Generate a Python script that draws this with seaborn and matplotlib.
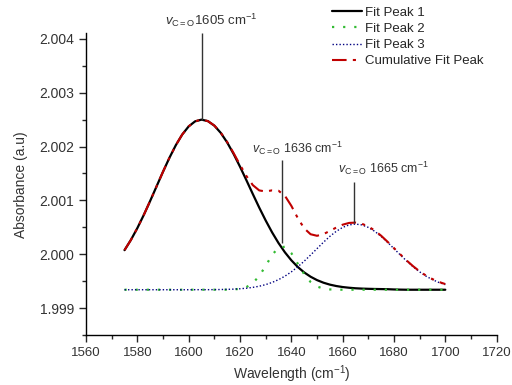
import numpy as np
import pandas as pd
import matplotlib
matplotlib.use("Agg")
import matplotlib.pyplot as plt
import seaborn as sns
from matplotlib.ticker import MultipleLocator

# wavenumber grid (cm-1)
wavenumber = [1575, 1577.5, 1580, 1582.5, 1585, 1587.5, 1590, 1592.5, 1595, 1597.5,
              1600, 1602.5, 1605, 1607.5, 1610, 1612.5, 1615, 1617.5, 1620, 1622.5,
              1625, 1627.5, 1630, 1632.5, 1635, 1637.5, 1640, 1642.5, 1645, 1647.5,
              1650, 1652.5, 1655, 1657.5, 1660, 1662.5, 1665, 1667.5, 1670, 1672.5,
              1675, 1677.5, 1680, 1682.5, 1685, 1687.5, 1690, 1692.5, 1695, 1697.5, 1700]

fit_peak1 = [2.000075, 2.000266, 2.000485, 2.000728, 2.000990, 2.001261, 2.001532, 2.001791, 2.002026, 2.002224,
             2.002374, 2.002468, 2.002500, 2.002472, 2.002388, 2.002254, 2.002076, 2.001863, 2.001626, 2.001374,
             2.001117, 2.000865, 2.000627, 2.000406, 2.000208, 2.000035, 1.999887, 1.999763, 1.999662, 1.999582,
             1.999519, 1.999471, 1.999435, 1.999409, 1.999390, 1.999377, 1.999367, 1.999361, 1.999357, 1.999354,
             1.999352, 1.999350, 1.999345, 1.999342, 1.999340, 1.999340, 1.999340, 1.999340, 1.999340, 1.999340, 1.999340]

fit_peak2 = [1.999340, 1.999340, 1.999340, 1.999340, 1.999340, 1.999340, 1.999340, 1.999340, 1.999340, 1.999340,
             1.999340, 1.999340, 1.999340, 1.999340, 1.999340, 1.999340, 1.999341, 1.999345, 1.999357, 1.999389,
             1.999463, 1.999595, 1.999783, 1.999985, 2.000124, 2.000138, 2.000020, 1.999824, 1.999629, 1.999484,
             1.999400, 1.999361, 1.999346, 1.999341, 1.999340, 1.999340, 1.999340, 1.999340, 1.999340, 1.999340,
             1.999340, 1.999340, 1.999340, 1.999340, 1.999340, 1.999340, 1.999340, 1.999340, 1.999340, 1.999340, 1.999340]

fit_peak3 = [1.999340, 1.999340, 1.999340, 1.999340, 1.999340, 1.999340, 1.999340, 1.999340, 1.999340, 1.999340,
             1.999340, 1.999341, 1.999341, 1.999341, 1.999342, 1.999344, 1.999347, 1.999351, 1.999358, 1.999368,
             1.999384, 1.999405, 1.999435, 1.999475, 1.999527, 1.999592, 1.999672, 1.999765, 1.999870, 1.999985,
             2.000103, 2.000221, 2.000331, 2.000425, 2.000498, 2.000544, 2.000560, 2.000544, 2.000498, 2.000425,
             2.000331, 2.000221, 2.000103, 1.999985, 1.999870, 1.999765, 1.999672, 1.999592, 1.999527, 1.999475, 1.999435]

cumulative = [2.000075, 2.000266, 2.000485, 2.000728, 2.000990, 2.001261, 2.001532, 2.001791, 2.002026, 2.002224,
              2.002374, 2.002468, 2.002500, 2.002472, 2.002390, 2.002258, 2.002084, 2.001879, 2.001660, 2.001452,
              2.001283, 2.001185, 2.001165, 2.001186, 2.001179, 2.001085, 2.000899, 2.000672, 2.000481, 2.000371,
              2.000342, 2.000373, 2.000432, 2.000495, 2.000548, 2.000581, 2.000587, 2.000565, 2.000515, 2.000439,
              2.000343, 2.000231, 2.000113, 1.999995, 1.999880, 1.999775, 1.999682, 1.999602, 1.999537, 1.999485, 1.999445]

# peak annotations: position, label, top of the marked curve
peak_pos = [1605, 1636.5, 1664.5]
peak_names = ["1605", "1636", "1665"]
peak_tops = [2.0025, 2.0002, 2.00058]

sns.set_style("ticks")
plt.rcParams["font.family"] = ["Liberation Sans", "DejaVu Sans"]
plt.rcParams["mathtext.fontset"] = "custom"
plt.rcParams["mathtext.rm"] = "Liberation Sans"
plt.rcParams["mathtext.it"] = "Liberation Sans:italic"

df = pd.DataFrame({"x": wavenumber, "p1": fit_peak1, "p2": fit_peak2,
                   "p3": fit_peak3, "cum": cumulative})

fig = plt.figure(figsize=(5.12, 3.85), dpi=100)
ax = fig.add_axes([0.168, 0.130, 0.802, 0.783])

sns.lineplot(data=df, x="x", y="p1", ax=ax, color="black", lw=1.6, label="Fit Peak 1")
sns.lineplot(data=df, x="x", y="p2", ax=ax, color="#33bb33", lw=1.6,
             linestyle=(0, (1, 4)), label="Fit Peak 2")
sns.lineplot(data=df, x="x", y="p3", ax=ax, color="#000080", lw=1.0,
             linestyle=(0, (1, 1.5)), label="Fit Peak 3")
sns.lineplot(data=df, x="x", y="cum", ax=ax, color="#c00000", lw=1.5,
             linestyle=(0, (7, 3, 1.5, 3, 1.5, 3)), label="Cumulative Fit Peak")

# annotation lines and labels
line_top = [2.00411, 2.00175, 2.00135]
text_x = [1590.8, 1624.5, 1658.2]
text_y = [2.00434, 2.00197, 2.00160]
text_fmt = [r"$v_{\mathrm{C=O}}$", r"$v_{\mathrm{C=O}}$ ", r"$v_{\mathrm{C=O}}$ "]
for i in range(3):
    ax.vlines(peak_pos[i], peak_tops[i], line_top[i], color="#333333", lw=1.0, clip_on=False)
    ax.text(text_x[i], text_y[i], text_fmt[i] + peak_names[i] + r" cm$^{-1}$",
            fontsize=9.5 if i == 0 else 9, color="#333333", ha="left", va="center", clip_on=False)

ax.set_xlim(1560, 1720)
ax.set_ylim(1.9985, 2.0041)
ax.xaxis.set_major_locator(MultipleLocator(20))
ax.xaxis.set_minor_locator(MultipleLocator(10))
ax.yaxis.set_major_locator(MultipleLocator(0.001))
ax.yaxis.set_minor_locator(MultipleLocator(0.0005))
ax.yaxis.set_major_formatter(matplotlib.ticker.FormatStrFormatter("%.3f"))
ax.tick_params(which="major", direction="out", length=5, width=1, labelcolor="#333333")
ax.tick_params(axis="y", which="major", labelsize=10)
ax.tick_params(axis="x", which="major", labelsize=9.5)
ax.tick_params(which="minor", direction="out", length=3, width=1)
sns.despine(ax=ax)
for s in ["left", "bottom"]:
    ax.spines[s].set_color("black")
    ax.spines[s].set_linewidth(1.0)

ax.set_xlabel("Wavelength (cm$^{-1}$)", fontsize=10, color="#333333", labelpad=3)
ax.set_ylabel("Absorbance (a.u)", fontsize=10, color="#333333", labelpad=8)

ax.get_legend().remove()
h, l = ax.get_legend_handles_labels()
fig.legend(h, l, loc="upper left", bbox_to_anchor=(0.648, 0.983), frameon=False,
           fontsize=9.5, handlelength=2.3, handletextpad=0.2, labelspacing=0.3,
           borderpad=0, borderaxespad=0)

fig.savefig("out.png", dpi=100)
